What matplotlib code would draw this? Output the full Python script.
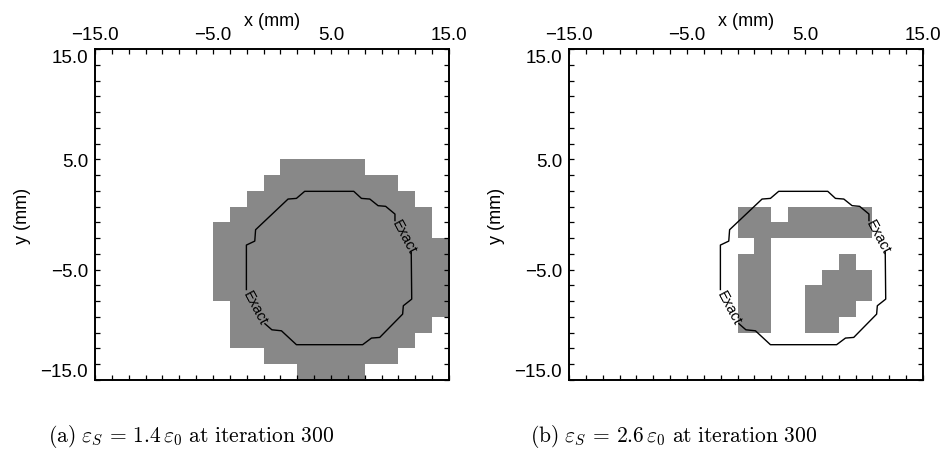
import numpy as np
import matplotlib
matplotlib.use('AGG')
import matplotlib.pyplot as plt
from matplotlib.colors import ListedColormap

plt.rcParams['font.family'] = ['Liberation Sans', 'DejaVu Sans']
plt.rcParams['mathtext.fontset'] = 'cm'

# 21 x 21 reconstruction cells over -15..15 mm
n_cells = 21
lim = 15.0
major_ticks = [-15.0, -5.0, 5.0, 15.0]
major_labels = ['\u221215.0', '\u22125.0', '5.0', '15.0']

# panel (a): gray cells, one run per row (row 0 = bottom), columns lo..hi
rows_a = [0, 1, 2, 3, 4, 5, 6, 7, 8, 9, 10, 11, 12, 13]
lo_a = [12, 10, 8, 8, 8, 7, 7, 7, 7, 7, 8, 9, 10, 11]
hi_a = [15, 17, 18, 19, 20, 20, 20, 20, 20, 19, 19, 18, 17, 15]

# panel (b): gray cells as runs
rows_b = [3, 3, 4, 4, 5, 5, 6, 6, 7, 7, 8, 9, 10, 10]
lo_b = [10, 14, 10, 14, 10, 14, 10, 15, 10, 16, 11, 10, 10, 13]
hi_b = [11, 15, 11, 16, 11, 17, 11, 17, 11, 16, 11, 17, 11, 17]

# exact object boundary (mm), two pieces broken by the "Exact" labels
exact1_x = [11.80, 11.84, 11.13, 11.07, 9.13, 8.43, 7.68, 2.07, 0.80, -0.01, -0.60]
exact1_y = [-3.40, -7.67, -8.27, -9.03, -11.14, -11.20, -11.80, -11.80, -10.54, -10.45, -9.90]
exact2_x = [-2.17, -2.17, -1.46, -1.39, 1.36, 2.07, 2.77, 6.93, 7.58, 8.29, 8.99, 9.63, 10.42, 10.42]
exact2_y = [-6.80, -2.77, -2.41, -1.38, 1.40, 1.46, 2.10, 2.10, 1.46, 1.40, 0.80, 0.74, 0.04, -0.55]
label_x = [11.20, -1.45]
label_y = [-1.95, -8.40]

captions = [r'$\mathrm{(a)}\ \varepsilon_S\, =\, 1.4\,\varepsilon_0\ \mathrm{at\ iteration\ 300}$',
            r'$\mathrm{(b)}\ \varepsilon_S\, =\, 2.6\,\varepsilon_0\ \mathrm{at\ iteration\ 300}$']


def to_grid(rows, lo, hi):
    g = np.zeros((n_cells, n_cells))
    for r, a, b in zip(rows, lo, hi):
        g[r, a:b + 1] = 1
    return g


fig = plt.figure(figsize=(9.48, 4.6), dpi=100)
edges = np.linspace(-lim, lim, n_cells + 1)
cmap = ListedColormap(['white', '#888888'])

panels = [(to_grid(rows_a, lo_a, hi_a), 95), (to_grid(rows_b, lo_b, hi_b), 569)]
for k, (grid, left_px) in enumerate(panels):
    ax = fig.add_axes([left_px / 948, 79 / 460, 354 / 948, 331 / 460])
    ax.pcolormesh(edges, edges, grid, cmap=cmap, vmin=0, vmax=1)
    ax.plot(exact1_x, exact1_y, color='black', lw=1.0)
    ax.plot(exact2_x, exact2_y, color='black', lw=1.0)
    for lx, ly in zip(label_x, label_y):
        ax.text(lx, ly, 'Exact', rotation=-62, ha='center', va='center',
                fontsize=10.5, rotation_mode='anchor')
    ax.set_xlim(-lim, lim)
    ax.set_ylim(-lim, lim)

    ax.set_xticks(major_ticks)
    ax.set_xticklabels(major_labels)
    ax.set_yticks(major_ticks)
    ax.set_yticklabels(major_labels)
    ax.set_xticks(edges, minor=True)
    ax.set_yticks(edges, minor=True)
    ax.tick_params(which='both', direction='in', length=3.5, width=0.9,
                   top=True, bottom=True, left=True, right=True,
                   labeltop=True, labelbottom=False, labelsize=13.5)
    ax.tick_params(axis='x', which='major', pad=4)
    ax.tick_params(axis='y', which='major', pad=5)
    for s in ax.spines.values():
        s.set_linewidth(1.4)
    ylabs = ax.get_yticklabels()
    ylabs[0].set_va('bottom')
    ylabs[-1].set_va('top')

    ax.text(0.5, 1.085, 'x (mm)', transform=ax.transAxes, ha='center', va='center', fontsize=13)
    ax.text(-0.205, 0.5, 'y (mm)', transform=ax.transAxes, ha='center', va='center',
            rotation=90, fontsize=13)

fig.text(48 / 948, 1 - 437 / 460, captions[0], ha='left', va='center', fontsize=15.5)
fig.text(530 / 948, 1 - 437 / 460, captions[1], ha='left', va='center', fontsize=15.5)

fig.savefig('out.png', dpi=100)
